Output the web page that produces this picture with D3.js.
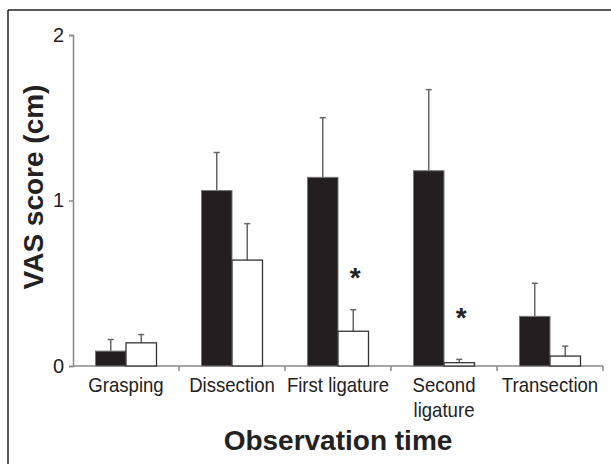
<!DOCTYPE html>
<html>
<head>
<meta charset="utf-8">
<script src="https://cdn.jsdelivr.net/npm/d3@7"></script>
<style>
  body { margin: 0; background: #fff; }
  svg text { font-family: "Liberation Sans", Arial, Helvetica, sans-serif; }
</style>
</head>
<body>
<svg id="chart" width="611" height="464"></svg>
<script>
const categories = ["Grasping", "Dissection", "First ligature", "Second ligature", "Transection"];
const labelLines = [["Grasping"], ["Dissection"], ["First ligature"], ["Second", "ligature"], ["Transection"]];
const blackMeans = [0.09, 1.06, 1.14, 1.18, 0.30];
const blackErr   = [0.16, 1.29, 1.50, 1.67, 0.50];
const whiteMeans = [0.14, 0.64, 0.21, 0.02, 0.06];
const whiteErr   = [0.19, 0.86, 0.34, 0.04, 0.12];
const starLevels = [null, null, 0.57, 0.33, null];
const yTicks = [0, 1, 2];

const svg = d3.select("#chart");

// frame: top and left lines
svg.append("line").attr("x1", 8).attr("x2", 611).attr("y1", 10).attr("y2", 10)
  .attr("stroke", "#222").attr("stroke-width", 1.5);
svg.append("line").attr("x1", 8).attr("x2", 8).attr("y1", 10).attr("y2", 464)
  .attr("stroke", "#222").attr("stroke-width", 1.5);

const x0 = 73, x1 = 603, yTop = 35, yBase = 366;

const x = d3.scaleBand().domain(categories).range([x0, x1]);
const y = d3.scaleLinear().domain([0, 2]).range([yBase, yTop]);
const barW = 30.5;

const g = svg.append("g");

// axes
const yAxis = g.append("g").attr("transform", `translate(${x0},0)`)
  .call(d3.axisLeft(y).tickValues(yTicks).tickFormat(d3.format("d")).tickSize(4).tickPadding(5));
yAxis.attr("font-family", null);
yAxis.select(".domain").attr("stroke", "#888").attr("stroke-width", 1.5);
yAxis.selectAll(".tick line").attr("stroke", "#888").attr("stroke-width", 1.5);
yAxis.selectAll(".tick text").attr("font-size", 20).attr("fill", "#222");

const xAxis = g.append("g").attr("transform", `translate(0,${yBase})`);
xAxis.append("line").attr("x1", x0).attr("x2", x1).attr("y1", 0).attr("y2", 0)
  .attr("stroke", "#888").attr("stroke-width", 1.5);
xAxis.selectAll("line.tk")
  .data(categories.slice(1).concat(["end"]))
  .join("line").attr("class", "tk")
  .attr("x1", d => d === "end" ? x1 : x(d))
  .attr("x2", d => d === "end" ? x1 : x(d))
  .attr("y1", 0).attr("y2", 5)
  .attr("stroke", "#888").attr("stroke-width", 1.5);

xAxis.selectAll("g.lbl")
  .data(categories)
  .join("g").attr("class", "lbl")
  .attr("transform", d => `translate(${x(d) + x.bandwidth() / 2},26) scale(0.93,1)`)
  .each(function(d, i) {
    d3.select(this).append("text")
      .attr("text-anchor", "middle")
      .attr("font-size", 20)
      .attr("fill", "#222")
      .selectAll("tspan")
      .data(labelLines[i])
      .join("tspan")
      .attr("x", 0)
      .attr("dy", (t, j) => j === 0 ? 0 : 25)
      .text(t => t);
  });

// error bars (drawn first so bars sit over them)
function errBars(means, errs, offset) {
  const eg = g.append("g");
  categories.forEach((c, i) => {
    const cx = x(c) + x.bandwidth() / 2 + offset;
    eg.append("line").attr("x1", cx).attr("x2", cx)
      .attr("y1", y(means[i])).attr("y2", y(errs[i]))
      .attr("stroke", "#666").attr("stroke-width", 1.5);
    eg.append("line").attr("x1", cx - 3).attr("x2", cx + 3)
      .attr("y1", y(errs[i])).attr("y2", y(errs[i]))
      .attr("stroke", "#666").attr("stroke-width", 1.5);
  });
}
errBars(blackMeans, blackErr, -barW / 2);
errBars(whiteMeans, whiteErr, barW / 2);

// bars
g.append("g").selectAll("rect")
  .data(categories)
  .join("rect")
  .attr("x", (d) => x(d) + x.bandwidth() / 2 - barW)
  .attr("y", (d, i) => y(blackMeans[i]))
  .attr("width", barW)
  .attr("height", (d, i) => yBase - y(blackMeans[i]))
  .attr("fill", "#231f20")
  .attr("stroke", "#777").attr("stroke-width", 1);

g.append("g").selectAll("rect")
  .data(categories)
  .join("rect")
  .attr("x", (d) => x(d) + x.bandwidth() / 2)
  .attr("y", (d, i) => y(whiteMeans[i]))
  .attr("width", barW)
  .attr("height", (d, i) => yBase - y(whiteMeans[i]))
  .attr("fill", "#fff")
  .attr("stroke", "#333").attr("stroke-width", 1.3);

// significance stars
g.append("g").selectAll("text")
  .data(categories.filter((c, i) => starLevels[i] !== null))
  .join("text")
  .attr("x", d => x(d) + x.bandwidth() / 2 + barW / 2 + 2)
  .attr("y", d => y(starLevels[categories.indexOf(d)]))
  .attr("dy", "0.55em")
  .attr("text-anchor", "middle")
  .attr("font-size", 28)
  .attr("font-weight", "bold")
  .attr("fill", "#222")
  .text("*");

// axis titles
svg.append("text")
  .attr("x", 338)
  .attr("y", 450)
  .attr("text-anchor", "middle")
  .attr("font-size", 28)
  .attr("font-weight", "bold")
  .attr("fill", "#222")
  .text("Observation time");

svg.append("text")
  .attr("transform", `translate(43,187) rotate(-90)`)
  .attr("text-anchor", "middle")
  .attr("font-size", 28)
  .attr("font-weight", "bold")
  .attr("fill", "#222")
  .text("VAS score (cm)");
</script>
</body>
</html>
